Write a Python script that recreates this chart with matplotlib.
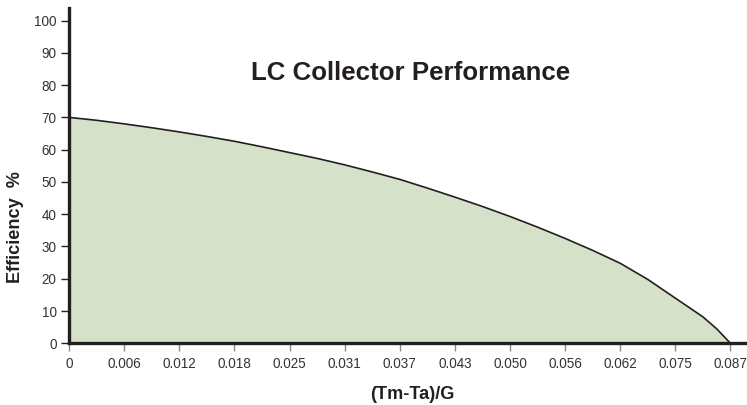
import matplotlib
matplotlib.use('Agg')
import matplotlib.pyplot as plt
from matplotlib import font_manager

# Values (x in tick-index units, half steps between ticks)
x_labels = ['0', '0.006', '0.012', '0.018', '0.025', '0.031', '0.037',
            '0.043', '0.050', '0.056', '0.062', '0.075', '0.087']
x_pos = [0, 0.5, 1, 1.5, 2, 2.5, 3, 3.5, 4, 4.5, 5, 5.5, 6, 6.5, 7, 7.5,
         8, 8.5, 9, 9.5, 10, 10.5, 11, 11.5, 11.75, 12]
efficiency = [70, 69.1, 68.0, 66.8, 65.5, 64.1, 62.6, 60.9, 59.1, 57.3,
              55.3, 53.1, 50.8, 48.1, 45.3, 42.4, 39.3, 36.0, 32.5, 28.8,
              24.8, 19.8, 14.0, 8.2, 4.5, 0]
y_ticks = [0, 10, 20, 30, 40, 50, 60, 70, 80, 90, 100]

names = {f.name for f in font_manager.fontManager.ttflist}
if 'Liberation Sans Narrow' in names:
    plt.rcParams['font.family'] = ['Liberation Sans Narrow', 'DejaVu Sans']
    scale = 1.0
else:
    plt.rcParams['font.family'] = ['Liberation Sans', 'DejaVu Sans']
    scale = 0.93

INK = '#231f20'
FILL = '#d5e1c8'

fig = plt.figure(figsize=(7.47, 4.05), dpi=100)
ax = fig.add_axes([0.0924, 0.1523, 0.9076, 0.828])

ax.fill_between(x_pos, efficiency, 0, color=FILL, linewidth=0, zorder=1)
ax.plot(x_pos, efficiency, color=INK, linewidth=1.2, zorder=2)

ax.set_xlim(0, 12.3)
ax.set_ylim(0, 103.9)

ax.set_xticks(range(len(x_labels)))
ax.set_xticklabels(x_labels)
ax.set_yticks(y_ticks)

for s in ('top', 'right'):
    ax.spines[s].set_visible(False)
for s in ('left', 'bottom'):
    ax.spines[s].set_linewidth(2.4)
    ax.spines[s].set_color(INK)

ax.tick_params(axis='y', direction='out', length=6, width=1, color=INK,
               labelsize=10.5 * scale, labelcolor='#333333', pad=3)
ax.tick_params(axis='x', direction='out', length=6, width=1, color='#888888',
               labelsize=10.5 * scale, labelcolor='#333333', pad=4)

fig.text(0.552, 0.027, '(Tm-Ta)/G', fontsize=14 * scale, fontweight='bold',
         color=INK, ha='center', va='center')
fig.text(0.021, 0.44, 'Efficiency  %', rotation=90, fontsize=14 * scale,
         fontweight='bold', color=INK, ha='center', va='center')
fig.text(0.55, 0.82, 'LC Collector Performance', fontsize=20 * scale,
         fontweight='bold', color=INK, ha='center', va='center')

fig.savefig('out.png', dpi=100)
